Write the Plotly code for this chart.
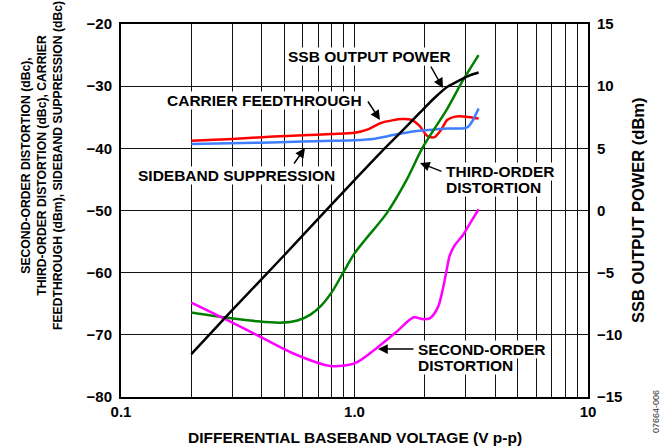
import plotly.graph_objects as go

# ---------------- data ----------------
ssb_x = [0.2, 0.3, 0.5, 0.7, 1.0, 1.3, 1.6, 1.9, 2.2, 2.5, 2.8, 3.1, 3.4]
ssb_y = [-11.55, -8.0, -3.6, -0.65, 2.45, 4.7, 6.4, 7.85, 9.05, 9.95, 10.45, 10.85, 11.1]

carrier_x = [0.2, 0.3, 0.45, 0.6, 0.8, 1.0, 1.15, 1.3, 1.45, 1.6, 1.75, 1.9, 2.05, 2.2, 2.35, 2.5, 2.7, 3.0, 3.4]
carrier_y = [-38.8, -38.5, -38.1, -37.9, -37.7, -37.5, -36.9, -35.9, -35.5, -35.3, -35.4, -36.4, -38.0, -38.2, -37.0, -35.4, -34.9, -34.9, -35.2]

sideband_x = [0.2, 0.4, 0.6, 0.8, 1.0, 1.2, 1.4, 1.7, 2.0, 2.5, 2.9, 3.05, 3.2, 3.4]
sideband_y = [-39.3, -39.1, -38.9, -38.8, -38.7, -38.5, -38.0, -37.4, -37.1, -36.8, -36.8, -36.6, -35.6, -33.6]

third_x = [0.2, 0.28, 0.38, 0.48, 0.57, 0.65, 0.72, 0.81, 0.9, 1.0, 1.1, 1.2, 1.37, 1.67, 1.97, 2.48, 2.92, 3.4]
third_y = [-66.4, -67.2, -67.8, -68.05, -67.7, -66.7, -65.3, -62.8, -59.8, -56.9, -54.9, -53.2, -50.5, -45.1, -39.7, -33.8, -29.0, -25.0]

second_x = [0.2, 0.284, 0.394, 0.547, 0.785, 1.0, 1.2, 1.516, 1.786, 1.97, 2.1, 2.28, 2.4, 2.48, 2.56, 2.69, 2.92, 3.12, 3.4]
second_y = [-64.8, -67.6, -70.3, -73.0, -75.0, -74.6, -72.6, -69.5, -67.2, -67.5, -67.35, -65.5, -62.3, -59.6, -57.2, -55.55, -53.9, -52.1, -49.8]

x_tickvals = [0.1, 1, 10]
x_ticktext = ["0.1", "1.0", "10"]
x_minor = [0.2, 0.3, 0.4, 0.5, 0.6, 0.7, 0.8, 0.9, 2, 3, 4, 5, 6, 7, 8, 9]

FONT = "Liberation Sans, Arial, Helvetica, sans-serif"
W, H = 667, 448
L, R, T, B = 121, 588, 24, 397


def px(xp):
    return (xp - L) / (R - L)


def py(yp):
    return (B - yp) / (B - T)


fig = go.Figure()
lw = 2.5
fig.add_trace(go.Scatter(x=carrier_x, y=carrier_y, mode="lines", line=dict(color="#ff0000", width=lw, shape="spline", smoothing=0.8)))
fig.add_trace(go.Scatter(x=sideband_x, y=sideband_y, mode="lines", line=dict(color="#3f7fff", width=lw, shape="spline", smoothing=0.8)))
fig.add_trace(go.Scatter(x=third_x, y=third_y, mode="lines", line=dict(color="#008000", width=lw, shape="spline", smoothing=0.8)))
fig.add_trace(go.Scatter(x=second_x, y=second_y, mode="lines", line=dict(color="#ff00ff", width=lw, shape="spline", smoothing=0.8)))
fig.add_trace(go.Scatter(x=ssb_x, y=ssb_y, mode="lines", yaxis="y2", line=dict(color="#000000", width=lw, shape="spline", smoothing=0.8)))

tickfont = dict(family=FONT, size=15, color="black", weight="bold")

fig.update_layout(
    width=W, height=H,
    margin=dict(l=L, r=W - R, t=T, b=H - B),
    paper_bgcolor="white", plot_bgcolor="white",
    showlegend=False, hovermode=False,
    xaxis=dict(type="log", range=[-1, 1], tickvals=x_tickvals, ticktext=x_ticktext,
               showgrid=True, gridcolor="#111", gridwidth=1,
               minor=dict(tickvals=x_minor, showgrid=True, gridcolor="#111", gridwidth=1, ticks=""),
               showline=True, mirror=True, linecolor="black", linewidth=2,
               ticks="", tickfont=tickfont, zeroline=False),
    yaxis=dict(range=[-80, -20], dtick=10, showgrid=True, gridcolor="#111", gridwidth=1,
               showline=True, mirror=True, linecolor="black", linewidth=2,
               ticks="", tickfont=tickfont, zeroline=False, ticklabelstandoff=4),
    yaxis2=dict(range=[-15, 15], dtick=5, overlaying="y", side="right", showgrid=False,
                showline=True, linecolor="black", linewidth=2, ticks="", tickfont=tickfont,
                zeroline=False, ticklabelstandoff=4),
)

ann = []
bold = dict(family=FONT, size=15.5, color="black", weight="bold")


def label(text, x, y, xanchor="center", bg="white"):
    ann.append(dict(text=text, xref="paper", yref="paper", x=px(x), y=py(y), showarrow=False,
                    xanchor=xanchor, yanchor="middle", font=bold, bgcolor=bg, borderpad=0))


label("SSB OUTPUT POWER", 369.5, 57)
label("CARRIER FEEDTHROUGH", 264, 100)
label("SIDEBAND SUPPRESSION", 236, 175)
label("THIRD-ORDER", 445, 171.5, "left")
label("DISTORTION", 445, 187.5, "left")
label("SECOND-ORDER", 417, 349.5, "left")
label("DISTORTION", 417, 365.5, "left")


def arrow(hx, hy, tx, ty):
    ann.append(dict(text="", xref="paper", yref="paper", x=px(hx), y=py(hy),
                    ax=tx - hx, ay=ty - hy, showarrow=True, arrowhead=2, arrowsize=1.3,
                    arrowwidth=1.5, arrowcolor="black", standoff=0))


arrow(443, 88, 430, 65)
arrow(380, 120, 367, 100)
arrow(305, 148, 293, 165)
arrow(420, 163, 443, 172)
arrow(378, 349, 415, 349)

ann.append(dict(text="SECOND-ORDER DISTORTION (dBc),<br>THIRD-ORDER DISTORTION (dBc), CARRIER<br>FEEDTHROUGH (dBm), SIDEBAND SUPPRESSION (dBc)",
                xref="paper", yref="paper", x=px(42), y=py(166), textangle=-90, showarrow=False,
                xanchor="center", yanchor="middle", font=dict(family=FONT, size=12.2, color="black", weight="bold")))
ann.append(dict(text="SSB OUTPUT POWER (dBm)", xref="paper", yref="paper", x=px(638), y=py(210),
                textangle=-90, showarrow=False, xanchor="center", yanchor="middle",
                font=dict(family=FONT, size=16.5, color="black", weight="bold")))
ann.append(dict(text="DIFFERENTIAL BASEBAND VOLTAGE (V p-p)", xref="paper", yref="paper", x=px(355), y=py(437),
                showarrow=False, xanchor="center", yanchor="middle",
                font=dict(family=FONT, size=15.5, color="black", weight="bold")))
ann.append(dict(text="07664-006", xref="paper", yref="paper", x=px(656), y=py(412),
                textangle=-90, showarrow=False, xanchor="center", yanchor="middle",
                font=dict(family=FONT, size=9, color="#333")))

fig.update_layout(annotations=ann)
fig.write_html("out.html", config={"displayModeBar": False, "staticPlot": True},
               post_script="document.body.style.margin='0';document.body.style.padding='0';")
